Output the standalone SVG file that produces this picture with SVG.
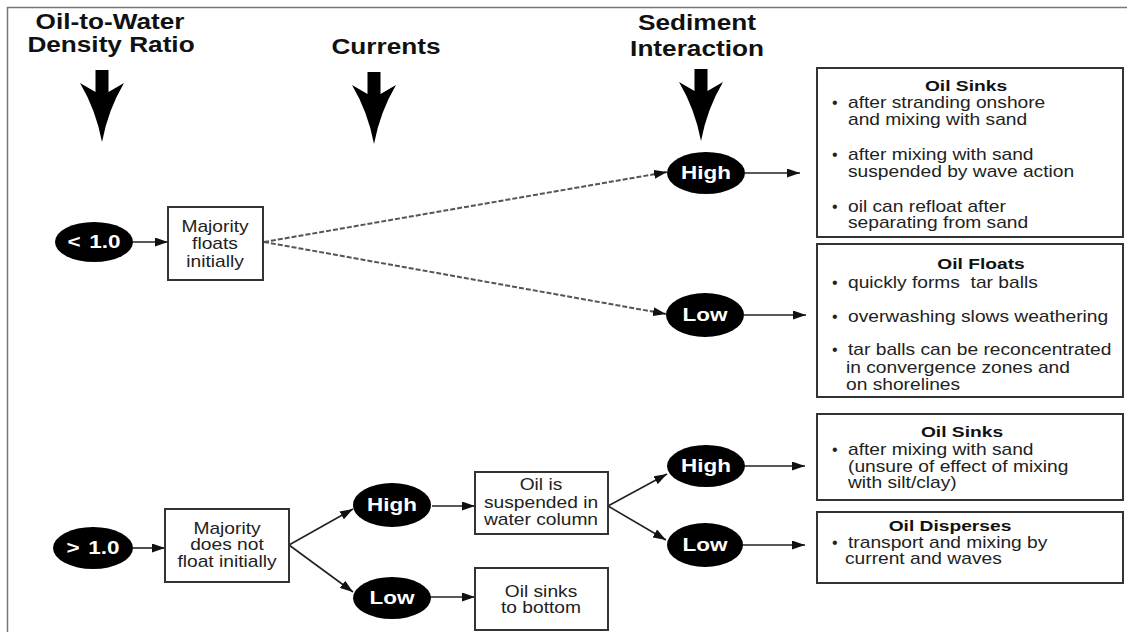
<svg xmlns="http://www.w3.org/2000/svg" width="1127" height="635" viewBox="0 0 1127 635">
<style>
.frame{stroke:#777;stroke-width:1.5;fill:none}
.h{font-family:"Liberation Sans",Arial,Helvetica,sans-serif;font-size:22px;font-weight:bold;fill:#111;text-anchor:middle}
.t{font-family:"Liberation Sans",Arial,Helvetica,sans-serif;font-size:16px;fill:#222}
.c{text-anchor:middle}
.bt{font-family:"Liberation Sans",Arial,Helvetica,sans-serif;font-size:15px;font-weight:bold;fill:#111;text-anchor:middle}
.e{font-family:"Liberation Sans",Arial,Helvetica,sans-serif;font-size:18px;font-weight:bold;fill:#fff;text-anchor:middle}
.box{fill:#fff;stroke:#333;stroke-width:2}
.oval{fill:#000}
.ln{stroke:#222;stroke-width:1.6;fill:none;marker-end:url(#ah)}
.dash{stroke:#555;stroke-width:2;fill:none;stroke-dasharray:5 2;marker-end:url(#ah)}
.big{fill:#000}
</style>
<defs>
<marker id="ah" viewBox="0 0 10 10" refX="10" refY="5" markerWidth="13" markerHeight="9" markerUnits="userSpaceOnUse" orient="auto" preserveAspectRatio="none">
<path d="M0,0 L10,5 L0,10 z" fill="#111"/>
</marker>
<path id="bigarrow" d="M-6.5,0 H6.5 V22 L22,13 Q6,40 0,72 Q-6,40 -22,13 L-6.5,22 Z"/>
</defs>
<rect width="1127" height="635" fill="#fff"/>
<path class="frame" d="M7.5,632 V7.5 H1127"/>

<g id="headers">
<text class="h" transform="translate(110,29) scale(1.19,1)">Oil-to-Water</text>
<text class="h" transform="translate(111,52) scale(1.19,1)">Density Ratio</text>
<text class="h" transform="translate(386,54) scale(1.19,1)">Currents</text>
<text class="h" transform="translate(697,30) scale(1.19,1)">Sediment</text>
<text class="h" transform="translate(697,56) scale(1.19,1)">Interaction</text>
<use href="#bigarrow" class="big" transform="translate(102,70)"/>
<use href="#bigarrow" class="big" transform="translate(374,72)"/>
<use href="#bigarrow" class="big" transform="translate(701,69)"/>
</g>

<g id="connectors">
<line class="ln" x1="133" y1="242" x2="168" y2="242"/>
<line class="dash" x1="264" y1="242" x2="667" y2="172"/>
<line class="dash" x1="264" y1="242" x2="666" y2="314"/>
<line class="ln" x1="745" y1="173" x2="800" y2="173"/>
<line class="ln" x1="744" y1="315" x2="806" y2="315"/>
<line class="ln" x1="133" y1="548" x2="165" y2="548"/>
<line class="ln" x1="289" y1="545" x2="353" y2="509"/>
<line class="ln" x1="289" y1="545" x2="353" y2="592"/>
<line class="ln" x1="432" y1="506" x2="475" y2="506"/>
<line class="ln" x1="430" y1="597" x2="475" y2="597"/>
<line class="ln" x1="608" y1="506" x2="667" y2="474"/>
<line class="ln" x1="608" y1="506" x2="666" y2="540"/>
<line class="ln" x1="745" y1="466" x2="805" y2="466"/>
<line class="ln" x1="743" y1="545" x2="805" y2="545"/>
</g>

<g id="lt1">
<ellipse class="oval" cx="94" cy="242" rx="39" ry="20"/>
<text class="e" transform="translate(94,248) scale(1.25,1)"><tspan>&lt;</tspan><tspan dx="7">1.0</tspan></text>
</g>
<g id="floats">
<rect class="box" x="168" y="207" width="95" height="73"/>
<text class="t c" transform="translate(215,232) scale(1.2,1)">Majority</text>
<text class="t c" transform="translate(215,249) scale(1.2,1)">floats</text>
<text class="t c" transform="translate(215,267) scale(1.2,1)">initially</text>
</g>
<g id="high1">
<ellipse class="oval" cx="706" cy="173" rx="39" ry="21"/>
<text class="e" transform="translate(706,179) scale(1.25,1)">High</text>
</g>
<g id="low1">
<ellipse class="oval" cx="705" cy="315" rx="39" ry="22"/>
<text class="e" transform="translate(705,321) scale(1.25,1)">Low</text>
</g>

<g id="sinks1">
<rect class="box" x="817" y="68" width="306" height="169"/>
<text class="bt" transform="translate(966,91) scale(1.28,1)">Oil Sinks</text>
<text class="t" x="832" y="108">•</text>
<text class="t" transform="translate(848,108) scale(1.2,1)">after stranding onshore</text>
<text class="t" transform="translate(848,125) scale(1.2,1)">and mixing with sand</text>
<text class="t" x="832" y="160">•</text>
<text class="t" transform="translate(848,160) scale(1.2,1)">after mixing with sand</text>
<text class="t" transform="translate(848,177) scale(1.2,1)">suspended by wave action</text>
<text class="t" x="832" y="212">•</text>
<text class="t" transform="translate(848,212) scale(1.2,1)">oil can refloat after</text>
<text class="t" transform="translate(848,228) scale(1.2,1)">separating from sand</text>
</g>

<g id="floats2">
<rect class="box" x="817" y="244" width="306" height="153"/>
<text class="bt" transform="translate(981,269) scale(1.28,1)">Oil Floats</text>
<text class="t" x="832" y="288">•</text>
<text class="t" transform="translate(848,288) scale(1.2,1)" xml:space="preserve">quickly forms  tar balls</text>
<text class="t" x="832" y="322">•</text>
<text class="t" transform="translate(848,322) scale(1.2,1)">overwashing slows weathering</text>
<text class="t" x="832" y="355">•</text>
<text class="t" transform="translate(848,355) scale(1.2,1)">tar balls can be reconcentrated</text>
<text class="t" transform="translate(846,373) scale(1.2,1)">in convergence zones and</text>
<text class="t" transform="translate(846,390) scale(1.2,1)">on shorelines</text>
</g>

<g id="gt1">
<ellipse class="oval" cx="93" cy="548" rx="40" ry="21"/>
<text class="e" transform="translate(93,554) scale(1.25,1)"><tspan>&gt;</tspan><tspan dx="7">1.0</tspan></text>
</g>
<g id="notfloat">
<rect class="box" x="165" y="509" width="124" height="73"/>
<text class="t c" transform="translate(227,534) scale(1.2,1)">Majority</text>
<text class="t c" transform="translate(227,550) scale(1.2,1)">does not</text>
<text class="t c" transform="translate(227,567) scale(1.2,1)">float initially</text>
</g>
<g id="high2">
<ellipse class="oval" cx="392" cy="505" rx="39" ry="22"/>
<text class="e" transform="translate(392,511) scale(1.25,1)">High</text>
</g>
<g id="low2">
<ellipse class="oval" cx="392" cy="598" rx="39" ry="21"/>
<text class="e" transform="translate(392,604) scale(1.25,1)">Low</text>
</g>
<g id="suspended">
<rect class="box" x="475" y="472" width="133" height="62"/>
<text class="t c" transform="translate(541,490) scale(1.2,1)">Oil is</text>
<text class="t c" transform="translate(541,508) scale(1.2,1)">suspended in</text>
<text class="t c" transform="translate(541,525) scale(1.2,1)">water column</text>
</g>
<g id="sinksbottom">
<rect class="box" x="475" y="568" width="133" height="62"/>
<text class="t c" transform="translate(541,597) scale(1.2,1)">Oil sinks</text>
<text class="t c" transform="translate(541,613) scale(1.2,1)">to bottom</text>
</g>
<g id="high3">
<ellipse class="oval" cx="706" cy="466" rx="39" ry="21"/>
<text class="e" transform="translate(706,472) scale(1.25,1)">High</text>
</g>
<g id="low3">
<ellipse class="oval" cx="705" cy="545" rx="38" ry="22"/>
<text class="e" transform="translate(705,551) scale(1.25,1)">Low</text>
</g>

<g id="sinks2">
<rect class="box" x="817" y="414" width="306" height="86"/>
<text class="bt" transform="translate(962,437) scale(1.28,1)">Oil Sinks</text>
<text class="t" x="832" y="455">•</text>
<text class="t" transform="translate(848,455) scale(1.2,1)">after mixing with sand</text>
<text class="t" transform="translate(848,472) scale(1.2,1)">(unsure of effect of mixing</text>
<text class="t" transform="translate(848,488) scale(1.2,1)">with silt/clay)</text>
</g>
<g id="disperses">
<rect class="box" x="817" y="512" width="306" height="71"/>
<text class="bt" transform="translate(950,531) scale(1.28,1)">Oil Disperses</text>
<text class="t" x="832" y="548">•</text>
<text class="t" transform="translate(848,548) scale(1.2,1)">transport and mixing by</text>
<text class="t" transform="translate(845,564) scale(1.2,1)">current and waves</text>
</g>
</svg>
